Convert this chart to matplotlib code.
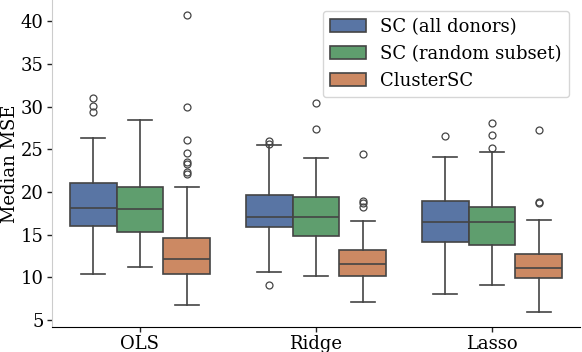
import matplotlib
matplotlib.use("Agg")
import matplotlib.pyplot as plt
import matplotlib.colors as mcolors
from matplotlib.patches import Patch
import colorsys

methods = ["OLS", "Ridge", "Lasso"]
hues = ["SC (all donors)", "SC (random subset)", "ClusterSC"]

# per hue: lists over methods [OLS, Ridge, Lasso]
q1 = {
    "SC (all donors)":    [15.97, 15.86, 14.10],
    "SC (random subset)": [15.27, 14.80, 13.75],
    "ClusterSC":          [10.35, 10.12, 9.88],
}
med = {
    "SC (all donors)":    [18.08, 17.03, 16.44],
    "SC (random subset)": [17.96, 17.03, 16.44],
    "ClusterSC":          [12.10, 11.52, 11.05],
}
q3 = {
    "SC (all donors)":    [21.00, 19.60, 18.90],
    "SC (random subset)": [20.61, 19.37, 18.20],
    "ClusterSC":          [14.57, 13.16, 12.69],
}
whislo = {
    "SC (all donors)":    [10.42, 10.58, 8.00],
    "SC (random subset)": [11.24, 10.12, 9.06],
    "ClusterSC":          [6.76, 7.07, 5.90],
}
whishi = {
    "SC (all donors)":    [26.28, 25.46, 24.05],
    "SC (random subset)": [28.38, 23.93, 24.64],
    "ClusterSC":          [20.54, 16.56, 16.67],
}
fliers = {
    "SC (all donors)":    [[30.96, 30.06, 29.32], [25.96, 25.64, 9.06], [26.55]],
    "SC (random subset)": [[], [30.37, 27.33], [28.03, 26.62, 25.18]],
    "ClusterSC":          [[40.75, 29.90, 26.08, 24.56, 23.47, 23.30, 22.30, 22.06],
                           [24.47, 18.97, 18.70, 18.27],
                           [27.21, 18.82, 18.70]],
}

base_colors = ["#4C72B0", "#55A868", "#DD8452"]


def desaturate(c, prop=0.75):
    r, g, b = mcolors.to_rgb(c)
    h, l, s = colorsys.rgb_to_hls(r, g, b)
    return colorsys.hls_to_rgb(h, l, s * prop)


colors = [desaturate(c) for c in base_colors]
line_color = "#444444"

plt.rcParams["font.family"] = ["DejaVu Serif"]
plt.rcParams["font.size"] = 13

fig = plt.figure(figsize=(5.82, 3.52), dpi=100)
ax = fig.add_axes([0.0893, 0.071, 0.9073, 0.929])

width = 0.8 / 3
for hi, h in enumerate(hues):
    stats = []
    for mi in range(len(methods)):
        stats.append(dict(med=med[h][mi], q1=q1[h][mi], q3=q3[h][mi],
                          whislo=whislo[h][mi], whishi=whishi[h][mi],
                          fliers=fliers[h][mi]))
    pos = [mi + (hi - 1) * width for mi in range(len(methods))]
    ax.bxp(stats, positions=pos, widths=width, patch_artist=True,
           showfliers=True, manage_ticks=False,
           boxprops=dict(facecolor=colors[hi], edgecolor=line_color, linewidth=1.2),
           medianprops=dict(color=line_color, linewidth=1.2),
           whiskerprops=dict(color=line_color, linewidth=1.2),
           capprops=dict(color=line_color, linewidth=1.2),
           capwidths=width * 0.5,
           flierprops=dict(marker="o", markerfacecolor="none",
                           markeredgecolor=line_color, markersize=5,
                           markeredgewidth=0.9))

ax.set_xlim(-0.5, 2.5)
ax.set_ylim(4.17, 42.5)
ax.set_xticks(range(len(methods)))
ax.set_xticklabels(methods)
ax.set_yticks([5, 10, 15, 20, 25, 30, 35, 40])
ax.set_ylabel("Median MSE", labelpad=1)
ax.spines["top"].set_visible(False)
ax.spines["right"].set_visible(False)
ax.spines["left"].set_color("#cccccc")
ax.tick_params(axis="both", length=3.5, width=1, color="#222222", pad=2.5)
ax.tick_params(axis="x", pad=2)

handles = [Patch(facecolor=colors[i], edgecolor=line_color, linewidth=1.2, label=hues[i])
           for i in range(3)]
leg = ax.legend(handles=handles, loc="upper right", fontsize=13,
                frameon=True, fancybox=True, edgecolor="#cccccc",
                borderaxespad=0.6, handlelength=2.0)

fig.savefig("out.png", dpi=100)
